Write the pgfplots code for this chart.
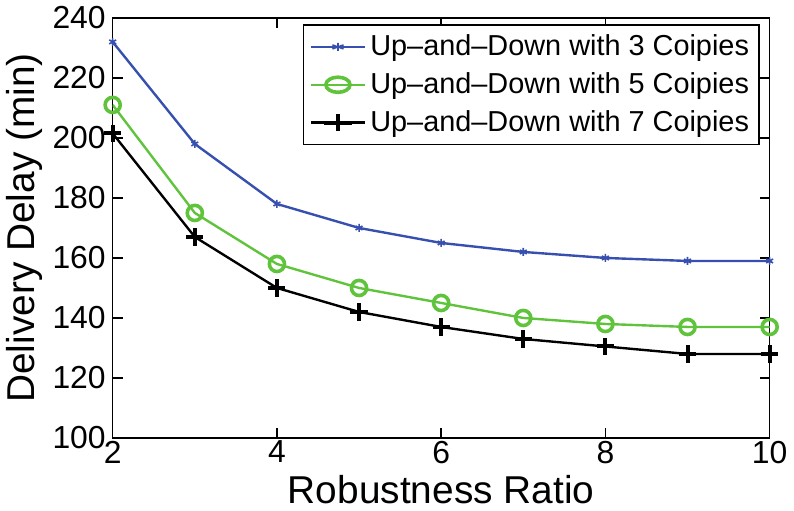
\documentclass[border=0pt]{standalone}
\usepackage{fontspec}
\setmainfont{Liberation Sans}
\usepackage{pgfplots}
\pgfplotsset{compat=1.18}
\definecolor{mblue}{RGB}{55,80,175}
\definecolor{mgreen}{RGB}{95,195,60}
\begin{document}
\begin{tikzpicture}
\begin{axis}[
    scale only axis,
    width=330pt,
    height=211pt,
    xmin=2, xmax=10,
    ymin=100, ymax=240,
    xtick={2,4,6,8,10},
    ytick={100,120,...,240},
    tick align=inside,
    tick pos=both,
    major tick length=5pt,
    /pgf/number format/assume math mode=true,
    tick label style={font=\fontsize{16}{16}\selectfont},
    xticklabel style={yshift=2pt},
    xlabel={Robustness Ratio},
    ylabel={Delivery Delay (min)},
    label style={font=\fontsize{19.5}{19.5}\selectfont},
    xlabel style={yshift=1pt},
    ylabel style={yshift=-2pt},
    legend style={font=\fontsize{14.5}{14.5}\selectfont, at={(0.985,0.985)}, anchor=north east,
        draw=black, line width=0.8pt, row sep=3pt, inner sep=3pt},
    legend cell align=left,
    legend image post style={xscale=1.6},
    axis line style={line width=0.8pt},
    every tick/.style={black, line width=0.8pt},
]
\addplot[mblue, line width=1.2pt, mark=asterisk, mark size=2pt, mark options={line width=0.8pt}] coordinates {
    (2,232) (3,198) (4,178) (5,170) (6,165) (7,162) (8,160) (9,159) (10,159)
};
\addplot[mgreen, line width=1.2pt, mark=o, mark size=3.8pt, mark options={line width=1.8pt}] coordinates {
    (2,211) (3,175) (4,158) (5,150) (6,145) (7,140) (8,138) (9,137) (10,137)
};
\addplot[black, line width=1.2pt, mark=+, mark size=4.3pt, mark options={line width=2pt}] coordinates {
    (2,201.5) (3,167) (4,150) (5,142) (6,137) (7,133) (8,130.5) (9,128) (10,128)
};
\legend{Up--and--Down with 3 Coipies, Up--and--Down with 5 Coipies, Up--and--Down with 7 Coipies}
\end{axis}
\end{tikzpicture}
\end{document}
